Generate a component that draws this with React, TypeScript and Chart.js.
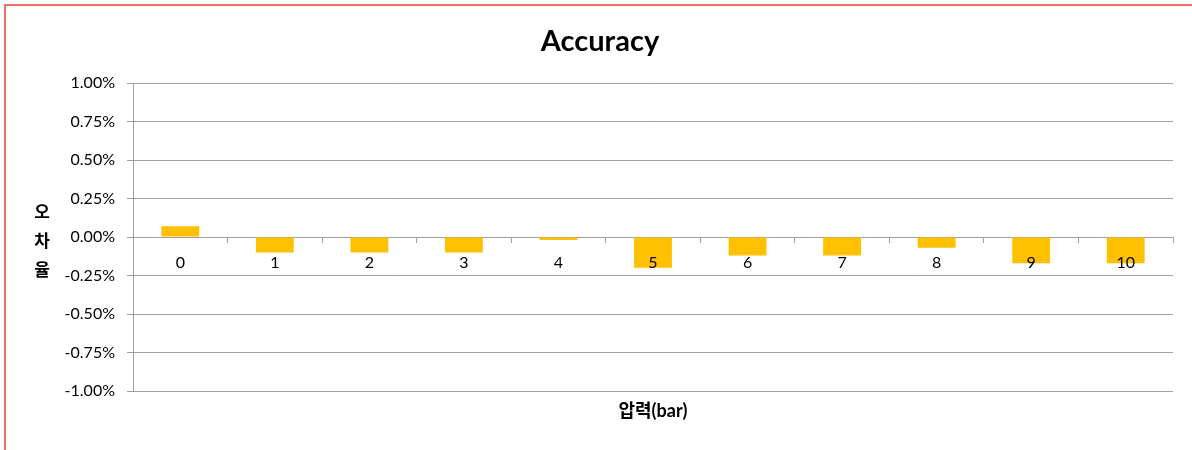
import React, { useEffect, useRef } from 'react';
import { Chart, registerables } from 'chart.js';

Chart.register(...registerables);

// ---- data ----
const chartTitle = 'Accuracy';
const xAxisTitle = '압력(bar)';
const yAxisTitleChars = ['오', '차', '율'];
const categories = ['0', '1', '2', '3', '4', '5', '6', '7', '8', '9', '10'];
const errorRates = [0.07, -0.10, -0.10, -0.10, -0.02, -0.20, -0.12, -0.12, -0.07, -0.17, -0.17];
const yMin = -1;
const yMax = 1;
const yStep = 0.25;

// ---- styles ----
const BAR_COLOR = '#FFC000';
const GRID_COLOR = '#a0a0a0';
const FONT = 'Lato, "Noto Sans CJK KR", sans-serif';

const verticalYTitle = {
  id: 'verticalYTitle',
  afterDraw(chart: any) {
    const ctx = chart.ctx;
    const yScale = chart.scales.y;
    const cy = yScale.getPixelForValue(0) + 4;
    ctx.save();
    ctx.font = 'bold 17px "Noto Sans CJK KR", sans-serif';
    ctx.fillStyle = '#000';
    ctx.textAlign = 'center';
    ctx.textBaseline = 'middle';
    yAxisTitleChars.forEach((c, i) => {
      ctx.fillText(c, 42, cy + (i - 1) * 29);
    });
    ctx.restore();
  },
};

export default function App() {
  const canvasRef = useRef<HTMLCanvasElement | null>(null);

  useEffect(() => {
    if (!canvasRef.current) return;
    const chart = new Chart(canvasRef.current, {
      type: 'bar',
      data: {
        labels: categories,
        datasets: [
          {
            data: errorRates,
            backgroundColor: BAR_COLOR,
            borderWidth: 0,
            barPercentage: 0.4,
            categoryPercentage: 1.0,
          },
        ],
      },
      options: {
        responsive: false,
        animation: false,
        layout: { padding: { left: 27, right: 19, top: 0, bottom: 0 } },
        plugins: {
          legend: { display: false },
          tooltip: { enabled: false },
          title: {
            display: true,
            text: chartTitle,
            color: '#000',
            font: { family: FONT, size: 29, weight: 'bold', lineHeight: 1.2 },
            padding: { top: 24, bottom: 24.2 },
          },
        },
        scales: {
          x: {
            type: 'category',
            position: { y: 0 } as any,
            offset: true,
            grid: {
              offset: true,
              drawOnChartArea: false,
              drawTicks: true,
              tickLength: 5,
              color: GRID_COLOR,
            },
            border: { display: true, color: GRID_COLOR, width: 1 },
            ticks: {
              color: '#000',
              font: { family: FONT, size: 16 },
              padding: 11,
              z: 1,
              maxRotation: 0,
              autoSkip: false,
            },
          },
          x2: {
            type: 'category',
            labels: categories,
            position: 'bottom',
            grid: { display: false, drawTicks: false },
            border: { display: false },
            ticks: { display: false },
            title: {
              display: true,
              text: xAxisTitle,
              color: '#000',
              font: { family: FONT, size: 18, weight: 'bold', lineHeight: 1.2 },
              padding: { top: 9, bottom: 28.4 },
            },
          },
          y: {
            min: yMin,
            max: yMax,
            ticks: {
              stepSize: yStep,
              callback: (v: any) => Number(v).toFixed(2) + '%',
              color: '#000',
              font: { family: FONT, size: 16 },
              padding: 12,
            },
            grid: { color: GRID_COLOR, tickLength: 6, drawTicks: true },
            border: { color: GRID_COLOR },
            afterFit: (s: any) => {
              s.width = 106;
            },
          },
        },
      },
      plugins: [verticalYTitle],
    } as any);
    return () => chart.destroy();
  }, []);

  return (
    <div
      style={{
        position: 'absolute',
        left: 0,
        top: 0,
        width: 1192,
        height: 450,
        overflow: 'hidden',
        background: '#fff',
      }}
    >
      <canvas
        ref={canvasRef}
        width={1192}
        height={450}
        style={{ position: 'absolute', left: 0, top: 0, width: 1192, height: 450 }}
      />
      <div
        style={{
          position: 'absolute',
          left: 4,
          top: 4,
          width: 1400,
          height: 700,
          border: '2px solid #f26d6d',
          pointerEvents: 'none',
        }}
      />
    </div>
  );
}
